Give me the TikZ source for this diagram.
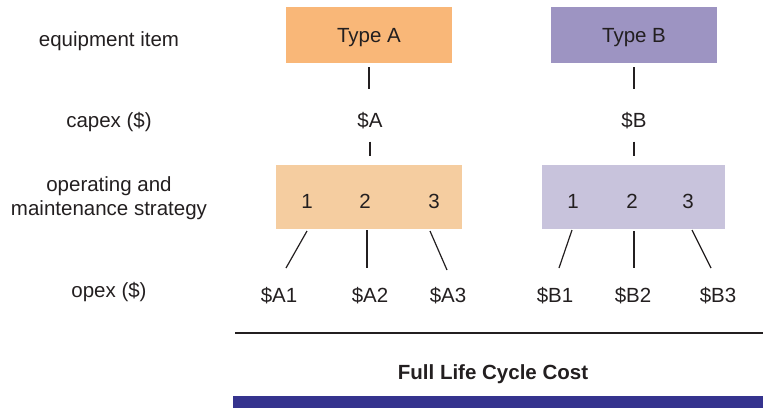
\documentclass[tikz,border=0pt]{standalone}
\usepackage{fontspec}
\setmainfont{Liberation Sans}
\definecolor{txt}{HTML}{231F20}
\definecolor{oraA}{HTML}{F9B778}
\definecolor{oraS}{HTML}{F5CDA0}
\definecolor{purB}{HTML}{9D94C2}
\definecolor{purS}{HTML}{C8C3DC}
\definecolor{barblue}{HTML}{35338E}
\begin{document}
\begin{tikzpicture}[x=1bp,y=-1bp,
  lbl/.style={inner sep=0pt,text height=14.7bp,text depth=0pt,text=txt,font=\fontsize{20.5bp}{24.5bp}\selectfont},
  typebox/.style={lbl,minimum width=166bp,minimum height=56bp},
  stratbox/.style={minimum height=64bp,inner sep=0pt},
  conn/.style={draw=txt,line width=1.2bp},
  sidelbl/.style={lbl,align=center}]
\useasboundingbox (0,0) rectangle (763,408);
% boxes
\node[typebox,fill=oraA] (tA) at (369,35) {Type A};
\node[typebox,fill=purB] (tB) at (634,35) {Type B};
\node[stratbox,fill=oraS,minimum width=186bp] (sA) at (369,197) {};
\node[stratbox,fill=purS,minimum width=183bp] (sB) at (633.5,197) {};
% capex
\node[lbl] (cA) at (370,120) {\$A};
\node[lbl] (cB) at (634,120) {\$B};
% strategy numbers
\node[lbl] (a1) at (307,201) {1};
\node[lbl] (a2) at (365,201) {2};
\node[lbl] (a3) at (434,201) {3};
\node[lbl] (b1) at (573,201) {1};
\node[lbl] (b2) at (632,201) {2};
\node[lbl] (b3) at (688,201) {3};
% opex
\node[lbl] (oA1) at (279,295) {\$A1};
\node[lbl] (oA2) at (370,295) {\$A2};
\node[lbl] (oA3) at (448,295) {\$A3};
\node[lbl] (oB1) at (555,295) {\$B1};
\node[lbl] (oB2) at (633,295) {\$B2};
\node[lbl] (oB3) at (718,295) {\$B3};
% side labels
\node[lbl] (l1) at (109,39) {equipment item};
\node[lbl] (l2) at (109,120) {capex (\$)};
\node[lbl] (l3a) at (109,184) {operating and};
\node[lbl] (l3b) at (109,208) {maintenance strategy};
\node[lbl] (l4) at (109,290) {opex (\$)};
% vertical connectors
\draw[conn,shorten <=4bp,shorten >=23bp] (tA.south) -- (tA.south |- cA.north);
\draw[conn,shorten <=4bp,shorten >=23bp] (tB.south) -- (tB.south |- cB.north);
\draw[conn,shorten <=14bp,shorten >=9bp] (cA.south) -- (cA.south |- sA.north);
\draw[conn,shorten <=14bp,shorten >=9bp] (cB.south) -- (cB.south |- sB.north);
% opex connectors
\coordinate (pa1) at (307,231); \coordinate (qa1) at (286,268);
\coordinate (pa2) at (367,230); \coordinate (qa2) at (367,268);
\coordinate (pa3) at (430,231); \coordinate (qa3) at (447,270);
\coordinate (pb1) at (572,230); \coordinate (qb1) at (559,268);
\coordinate (pb2) at (634,231); \coordinate (qb2) at (634,268);
\coordinate (pb3) at (692,230); \coordinate (qb3) at (711,268);
\foreach \n in {a1,a2,a3,b1,b2,b3} \draw[conn] (p\n) -- (q\n);
% bottom
\coordinate (hl) at (235,333); \coordinate (hr) at (763,333);
\draw[draw=txt,line width=1.5bp] (hl) -- (hr);
\node[lbl,font=\fontsize{20.5bp}{24.5bp}\selectfont\bfseries] (flc) at (493,372) {Full Life Cycle Cost};
\fill[barblue] (233,396) rectangle (763,408);
\end{tikzpicture}
\end{document}
